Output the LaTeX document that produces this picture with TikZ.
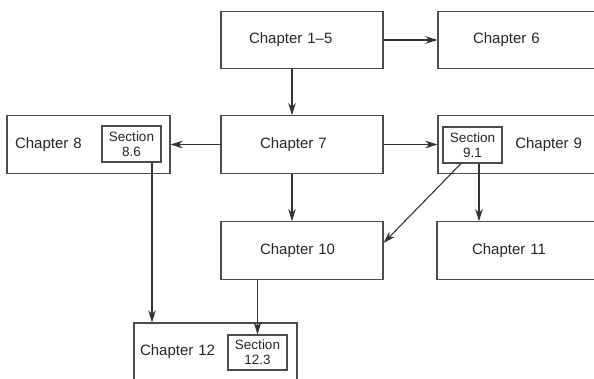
\documentclass[tikz,border=0pt]{standalone}
\usepackage{fontspec}
\setmainfont{Liberation Sans}
\usetikzlibrary{arrows.meta}
\usetikzlibrary{positioning}

\begin{document}
\begin{tikzpicture}
    [
    x=1pt,y=-1pt,
    chapbox/.style={draw=black!70,line width=1.1pt,minimum height=57.5pt,inner ysep=0pt,align=left,text=black!85,font=\fontsize{15}{18}\selectfont},
    secbox/.style={draw=black!70,line width=1.1pt,minimum width=59pt,minimum height=36pt,inner sep=0pt,align=center,text=black!85,font=\fontsize{13.5}{15}\selectfont},
    arr/.style={draw=black!80,line width=1.1pt,-{Stealth[length=12pt,width=7.5pt,inset=3.5pt]}},
    ]
    \useasboundingbox (0,0) rectangle (594,378);

    \node (ch15) at (302,40) [chapbox,inner xsep=28pt,text width=106pt] {Chapter 1--5};
    \node (ch6) at (519,40) [chapbox,inner xsep=35pt,text width=92pt] {Chapter 6};
    \node (ch7) at (302,144.5) [chapbox,inner xsep=39pt,text width=84pt] {Chapter 7};
    \node (ch8) at (88.5,144.5) [chapbox,inner xsep=8pt,text width=147pt] {Chapter 8};
    \node (ch9) at (519,144.5) [chapbox,inner xsep=18pt,text width=126pt,align=right] {Chapter 9};
    \node (ch10) at (302,250.5) [chapbox,inner xsep=39pt,text width=84pt] {Chapter 10};
    \node (ch11) at (518,250.5) [chapbox,inner xsep=35pt,text width=92pt] {Chapter 11};
    \node (ch12) at (215.5,352) [chapbox,inner xsep=6pt,text width=151pt,minimum height=58pt] {Chapter 12};

    \node (s86) at (131.5,144) [secbox] {Section\\8.6};
    \node (s91) at (472.5,145) [secbox] {Section\\9.1};
    \node (s123) at (257.5,352.5) [secbox,minimum height=35pt] {Section\\12.3};

    \draw [arr] (ch15.east) to (ch6.west);
    \draw [arr] ([xshift=-10pt]ch15.south) to ([xshift=-10pt]ch7.north);
    \draw [arr] (ch7.west) to (ch8.east);
    \draw [arr] (ch7.east) to (ch9.west);
    \draw [arr] ([xshift=-10pt]ch7.south) to ([xshift=-10pt]ch10.north);
    \draw [arr] ([xshift=20.5pt]s86.south) to ([xshift=20.5pt]s86.south |- ch12.north);
    \draw [arr] (s123.north |- ch10.south) to (s123.north);
    \draw [arr] ([xshift=6.5pt]s91.south) to ([xshift=6.5pt]s91.south |- ch11.north);
    \draw [arr] ([xshift=-11.5pt]s91.south) to ([yshift=7.5pt]ch10.east);
  \end{tikzpicture}
\end{document}
